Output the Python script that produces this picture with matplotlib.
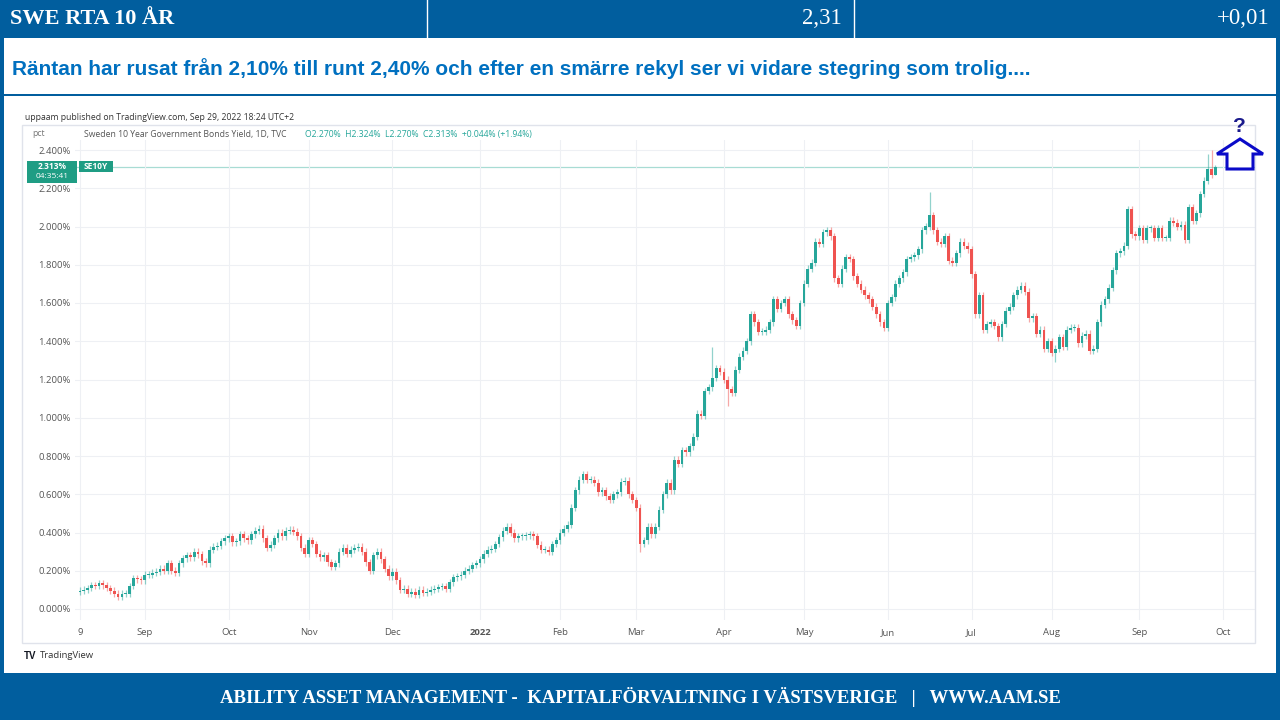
import numpy as np
import pandas as pd
import matplotlib
matplotlib.use('Agg')
import matplotlib.pyplot as plt
from matplotlib.patches import Rectangle, Polygon

# SE10Y daily closes (%), one list per month of business days
aug21 = [0.095, 0.10, 0.11, 0.125, 0.12, 0.135, 0.125, 0.11, 0.095, 0.08, 0.065, 0.08, 0.08, 0.12, 0.16, 0.155, 0.15]
sep21 = [0.18, 0.18, 0.19, 0.195, 0.21, 0.20, 0.24, 0.20, 0.19, 0.24, 0.265, 0.28, 0.27, 0.30, 0.285, 0.25, 0.24, 0.31, 0.325, 0.33, 0.355, 0.37]
oct21 = [0.38, 0.35, 0.355, 0.39, 0.37, 0.36, 0.39, 0.41, 0.42, 0.37, 0.32, 0.335, 0.37, 0.40, 0.38, 0.41, 0.415, 0.405, 0.38, 0.32, 0.29]
nov21 = [0.36, 0.34, 0.29, 0.27, 0.28, 0.245, 0.22, 0.24, 0.30, 0.32, 0.29, 0.31, 0.32, 0.325, 0.30, 0.245, 0.20, 0.28, 0.30, 0.26, 0.21, 0.17]
dec21 = [0.195, 0.15, 0.10, 0.105, 0.08, 0.09, 0.075, 0.10, 0.085, 0.09, 0.10, 0.105, 0.115, 0.12, 0.105, 0.14, 0.165, 0.17, 0.18, 0.20, 0.21, 0.23, 0.24]
jan22 = [0.26, 0.29, 0.31, 0.315, 0.34, 0.375, 0.41, 0.43, 0.40, 0.37, 0.38, 0.38, 0.385, 0.39, 0.38, 0.335, 0.31, 0.31, 0.30, 0.34, 0.36]
feb22 = [0.40, 0.42, 0.44, 0.53, 0.62, 0.675, 0.705, 0.675, 0.675, 0.66, 0.61, 0.62, 0.59, 0.57, 0.60, 0.61, 0.665, 0.67, 0.60, 0.57]
mar22 = [0.53, 0.34, 0.36, 0.43, 0.39, 0.43, 0.52, 0.60, 0.66, 0.62, 0.78, 0.76, 0.83, 0.82, 0.85, 0.90, 1.02, 1.01, 1.14, 1.16, 1.21, 1.26, 1.24]
apr22 = [1.20, 1.15, 1.13, 1.25, 1.32, 1.35, 1.40, 1.54, 1.50, 1.45, 1.45, 1.46, 1.50, 1.62, 1.57, 1.60, 1.62, 1.54, 1.51, 1.48, 1.60]
may22 = [1.70, 1.78, 1.81, 1.92, 1.91, 1.97, 1.98, 1.95, 1.73, 1.70, 1.78, 1.84, 1.83, 1.74, 1.70, 1.67, 1.64, 1.62, 1.58, 1.54, 1.50, 1.47]
jun22 = [1.60, 1.63, 1.70, 1.73, 1.76, 1.83, 1.84, 1.85, 1.88, 1.98, 2.00, 2.06, 1.98, 1.92, 1.91, 1.95, 1.82, 1.81, 1.86, 1.92, 1.90, 1.88]
jul22 = [1.75, 1.54, 1.64, 1.46, 1.49, 1.50, 1.48, 1.42, 1.49, 1.56, 1.58, 1.64, 1.67, 1.69, 1.66, 1.52, 1.53, 1.44, 1.46, 1.36, 1.40]
aug22 = [1.34, 1.36, 1.42, 1.37, 1.46, 1.47, 1.47, 1.39, 1.43, 1.44, 1.35, 1.36, 1.50, 1.59, 1.62, 1.68, 1.77, 1.86, 1.87, 1.90, 2.09, 1.96, 1.95]
sep22 = [1.99, 1.93, 1.99, 1.99, 1.94, 1.99, 1.94, 1.94, 2.03, 2.02, 2.00, 2.01, 1.93, 2.10, 2.03, 2.07, 2.17, 2.24, 2.30, 2.27, 2.313]

first_open = 0.09
# visible long wicks
high_marks = {'2022-03-29': 1.37, '2022-06-16': 2.18, '2022-09-27': 2.38,
              '2022-09-28': 2.40, '2022-09-29': 2.324}
low_marks = {'2022-03-02': 0.30, '2022-04-04': 1.06, '2022-08-02': 1.29,
             '2022-09-29': 2.270}

y_ticks = [0.0, 0.2, 0.4, 0.6, 0.8, 1.0, 1.2, 1.4, 1.6, 1.8, 2.0, 2.2, 2.4]
month_labels = ['9', 'Sep', 'Oct', 'Nov', 'Dec', '2022', 'Feb', 'Mar', 'Apr',
                'May', 'Jun', 'Jul', 'Aug', 'Sep', 'Oct']

last_price = 2.313
title = 'SWE RTA 10 ÅR'
value_txt = '2,31'
change_txt = '+0,01'
subtitle = ('Räntan har rusat från 2,10% till runt 2,40% och efter en smärre '
            'rekyl ser vi vidare stegring som trolig....')
footer = ('ABILITY ASSET MANAGEMENT -  KAPITALFÖRVALTNING I VÄSTSVERIGE   |   '
          'WWW.AAM.SE')

closes = np.array(aug21 + sep21 + oct21 + nov21 + dec21 + jan22 + feb22 + mar22
                  + apr22 + may22 + jun22 + jul22 + aug22 + sep22)
dates = pd.bdate_range('2021-08-09', periods=len(closes))
opens = np.concatenate([[first_open], closes[:-1]])
wick = 0.018
highs = np.maximum(opens, closes) + wick
lows = np.minimum(opens, closes) - wick
for d, v in high_marks.items():
    highs[dates.get_loc(pd.Timestamp(d))] = v
for d, v in low_marks.items():
    lows[dates.get_loc(pd.Timestamp(d))] = v

BLUE = '#015E9E'
UP = '#26a69a'
DOWN = '#ef5350'

fig = plt.figure(figsize=(12.8, 7.2), dpi=100)
fig.patch.set_facecolor('white')

# ---- candlestick panel (pixel layout: x 75..1255, y 140..620) ----
px0 = 80.0      # x of first bar
step = 3.81     # px per bar
ax = fig.add_axes([75 / 1280, 100 / 720, 1180 / 1280, 480 / 720])
ax.set_facecolor('white')
x = np.arange(len(closes))
up = closes >= opens
body_col = np.where(up, UP, DOWN)
ax.vlines(x, lows, highs, colors=body_col, lw=0.9, alpha=0.5, zorder=2)
ax.bar(x, np.maximum(np.abs(closes - opens), 0.005), bottom=np.minimum(opens, closes),
       width=0.72, color=body_col, linewidth=0, zorder=3)

full = pd.bdate_range('2021-08-09', '2022-10-31')
starts = [0] + [i for i in range(1, len(full)) if full[i].month != full[i - 1].month]
ax.set_xticks(starts)
ax.set_xticklabels(month_labels)
for lab in ax.get_xticklabels():
    if lab.get_text() == '2022':
        lab.set_fontweight('bold')
ax.set_yticks(y_ticks)
ax.set_yticklabels([f'{v:.3f}%' for v in y_ticks])
ax.set_xlim((75 - px0) / step, (1255 - px0) / step)
ax.set_ylim((609 - 620) / 191.25, (609 - 140) / 191.25)
ax.grid(True, color='#eef0f4', lw=0.8, zorder=0)
ax.tick_params(length=0, labelsize=6.8, labelcolor='#555555')
ax.tick_params(axis='x', pad=6)
ax.tick_params(axis='y', pad=3)
for lab in ax.get_xticklabels() + ax.get_yticklabels():
    lab.set_family('Open Sans')
for s in ax.spines.values():
    s.set_visible(False)
ax.axhline(last_price, color='#a8dcd4', lw=0.9, zorder=1)

# ---- overlay in pixel coordinates ----
ov = fig.add_axes([0, 0, 1, 1])
ov.set_xlim(0, 1280)
ov.set_ylim(720, 0)
ov.axis('off')
ov.patch.set_alpha(0)

ov.add_patch(Rectangle((0, 0), 1280, 38, color=BLUE, lw=0))
ov.add_patch(Rectangle((0, 673), 1280, 47, color=BLUE, lw=0))
ov.add_patch(Rectangle((0, 38), 4, 635, color=BLUE, lw=0))
ov.add_patch(Rectangle((1276, 38), 4, 635, color=BLUE, lw=0))
ov.add_patch(Rectangle((0, 94), 1280, 2, color=BLUE, lw=0))
for xd in (427, 854):
    ov.plot([xd, xd], [0, 38], color='white', lw=1)

ov.text(10, 19, title, color='white', fontsize=16, fontweight='bold',
        family='Liberation Serif', ha='left', va='center')
ov.text(842, 19, value_txt, color='white', fontsize=16.5, family='Liberation Serif',
        ha='right', va='center')
ov.text(1269, 19, change_txt, color='white', fontsize=16.5, family='Liberation Serif',
        ha='right', va='center')

renderer = fig.canvas.get_renderer()


def fit_width(t, width_px):
    w = t.get_window_extent(renderer).width
    t.set_fontsize(t.get_fontsize() * width_px / w)


st = ov.text(12, 69, subtitle, color='#0070C0', fontsize=14, fontweight='bold',
             family=['Liberation Sans Narrow', 'Liberation Sans'], ha='left', va='center')
fit_width(st, 1018)
ft = ov.text(640, 697, footer, color='white', fontsize=13, fontweight='bold',
             family='Liberation Serif', ha='center', va='center')
fit_width(ft, 840)

# tradingview frame and captions
ov.add_patch(Rectangle((22, 125), 1233, 518, fill=False, ec='#e0e3eb', lw=1))
ov.text(25, 117, 'uppaam published on TradingView.com, Sep 29, 2022 18:24 UTC+2',
        fontsize=6.2, color='#333333', family='Open Sans', va='center')
ov.text(32, 134, 'pct', fontsize=6.2, color='#777777', family='Open Sans', va='center')
ov.text(84, 134, 'Sweden 10 Year Government Bonds Yield, 1D, TVC', fontsize=6.2,
        color='#555555', family='Open Sans', va='center')
ov.text(305, 134, 'O2.270%  H2.324%  L2.270%  C2.313%  +0.044% (+1.94%)', fontsize=6.2,
        color=UP, family='Open Sans', va='center')

TAG = '#1f9d84'
ov.add_patch(Rectangle((27, 161), 50, 22, color=TAG, lw=0))
ov.text(52, 166.5, f'{last_price:.3f}%', color='white', fontsize=6, fontweight='bold',
        family='Open Sans', ha='center', va='center')
ov.text(52, 177, '04:35:41', color='white', fontsize=6, family='Open Sans',
        ha='center', va='center')
ov.add_patch(Rectangle((79, 161), 34, 11, color=TAG, lw=0))
ov.text(96, 166.5, 'SE10Y', color='white', fontsize=6, fontweight='bold',
        family='Open Sans', ha='center', va='center')

ov.text(24, 656, 'TV', fontsize=7, fontweight='bold', color='#131722',
        family='Liberation Sans', va='center')
ov.text(40, 656, 'TradingView', fontsize=6.8, color='#333333', family='Open Sans',
        va='center')

# hand-drawn up arrow with question mark
arrow = Polygon([(1240, 139), (1263, 154), (1253, 154), (1253, 169), (1227, 169),
                 (1227, 154), (1217, 154)], closed=True, fc='white', ec='#0A0AC8', lw=2.2,
                zorder=5)
ov.add_patch(arrow)
ov.text(1239, 127, '?', fontsize=15, fontweight='bold', color='#1A1A8C',
        family='Liberation Sans', ha='center', va='center')

fig.savefig('out.png', dpi=100)
